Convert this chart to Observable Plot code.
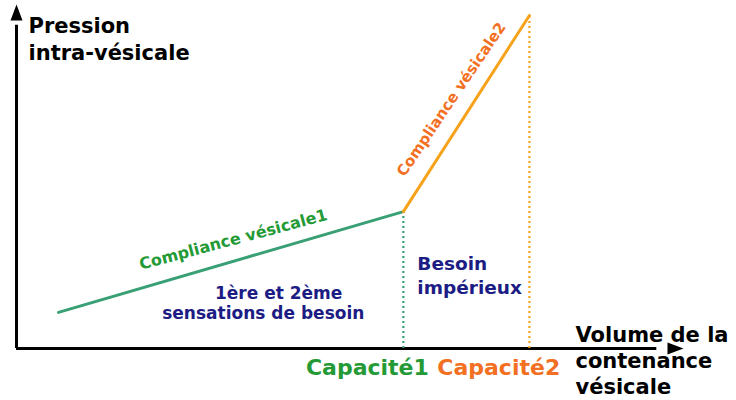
<!DOCTYPE html>
<html>
<head>
<meta charset="utf-8">
<script src="https://cdn.jsdelivr.net/npm/d3@7"></script>
<script src="https://cdn.jsdelivr.net/npm/@observablehq/plot@0.6"></script>
<style>
  html, body { margin: 0; padding: 0; background: #fff; }
</style>
</head>
<body>
<div id="chart"></div>
<script>
// Curve breakpoints: start, Capacité1, Capacité2 (volume, pressure in arbitrary units 0-100)
const volume = [6.3, 58.0, 76.9];
const pressure = [10.5, 39.8, 96.8];
const segmentNames = ["Compliance vésicale1", "Compliance vésicale2"];
const capacityNames = ["Capacité1", "Capacité2"];
const zoneNames = ["1ère et 2ème", "sensations de besoin", "Besoin", "impérieux"];
const axisTitles = ["Pression\nintra-vésicale", "Volume de la\ncontenance\nvésicale"];

// label anchor positions (data units)
const compLabelX = [32.5, 65.2];
const compLabelY = [31.6, 72.4];
const capLabelX = [52.6, 72.3];
const zoneLabelX = [39.3, 37.0, 60.1, 60.1];
const zoneLabelY = [16.0, 10.2, 24.4, 17.7];

const GREEN_LINE = "#38a074", ORANGE_LINE = "#f7a21b";
const GREEN_TEXT = "#239a35", ORANGE_TEXT = "#f36f21", NAVY = "#1c1c84";
const FONT = "DejaVu Sans";

const greenSeg = [{v: volume[0], p: pressure[0]}, {v: volume[1], p: pressure[1]}];
const orangeSeg = [{v: volume[1], p: pressure[1]}, {v: volume[2], p: pressure[2]}];

const arrowHead = {
  draw(context) {
    context.moveTo(0, 0);
    context.lineTo(6, 16);
    context.lineTo(-6, 16);
    context.closePath();
  }
};

const chart = Plot.plot({
  width: 736,
  height: 400,
  marginLeft: 16,
  marginRight: 53,
  marginTop: 4,
  marginBottom: 52,
  x: {domain: [0, 100], axis: null},
  y: {domain: [0, 100], axis: null},
  style: {background: "#fff", fontFamily: FONT},
  marks: [
    // axes
    Plot.ruleX([0], {y1: 0, y2: 94, stroke: "#000", strokeWidth: 3}),
    Plot.ruleY([0], {x1: 0, x2: 96, stroke: "#000", strokeWidth: 3}),
    Plot.dot([{x: 0, y: 100}], {x: "x", y: "y", symbol: arrowHead, fill: "#000", stroke: "none", r: 5}),
    Plot.dot([{x: 100, y: 0}], {x: "x", y: "y", symbol: arrowHead, fill: "#000", stroke: "none", r: 5, rotate: 90}),
    // dotted capacity lines
    Plot.ruleX([volume[1]], {y1: 0, y2: pressure[1], stroke: GREEN_LINE, strokeWidth: 2.2, strokeDasharray: "2,3"}),
    Plot.ruleX([volume[2]], {y1: 0, y2: pressure[2], stroke: ORANGE_LINE, strokeWidth: 2.2, strokeDasharray: "2,3"}),
    // compliance lines
    Plot.line(greenSeg, {x: "v", y: "p", stroke: GREEN_LINE, strokeWidth: 3}),
    Plot.line(orangeSeg, {x: "v", y: "p", stroke: ORANGE_LINE, strokeWidth: 3}),
    // compliance labels
    Plot.text([0], {x: () => compLabelX[0], y: () => compLabelY[0], text: () => segmentNames[0], rotate: -15, fill: GREEN_TEXT, fontSize: 16, fontWeight: "bold", fontFamily: FONT}),
    Plot.text([0], {x: () => compLabelX[1], y: () => compLabelY[1], text: () => segmentNames[1], rotate: -56, fill: ORANGE_TEXT, fontSize: 15, fontWeight: "bold", fontFamily: FONT}),
    // capacity labels
    Plot.text(capacityNames, {x: (d, i) => capLabelX[i], y: () => -5.8, text: d => d, fill: (d, i) => i === 0 ? GREEN_TEXT : ORANGE_TEXT, fontSize: 22, fontWeight: "bold", fontFamily: FONT}),
    // zone labels
    Plot.text(zoneNames.slice(0, 2), {x: (d, i) => zoneLabelX[i], y: (d, i) => zoneLabelY[i], text: d => d, fill: NAVY, fontSize: 17, fontWeight: "bold", fontFamily: FONT}),
    Plot.text(zoneNames.slice(2), {x: (d, i) => zoneLabelX[i + 2], y: (d, i) => zoneLabelY[i + 2], text: d => d, fill: NAVY, fontSize: 18.5, fontWeight: "bold", textAnchor: "start", fontFamily: FONT}),
    // axis titles
    Plot.text([axisTitles[0]], {x: () => 1.8, y: () => 97.4, text: d => d, textAnchor: "start", lineAnchor: "top", lineHeight: 1.3, fill: "#000", fontSize: 21, fontWeight: "bold", fontFamily: FONT}),
    Plot.text([axisTitles[1]], {x: () => 83.8, y: () => 7.4, text: d => d, textAnchor: "start", lineAnchor: "top", lineHeight: 1.25, fill: "#000", fontSize: 21, fontWeight: "bold", fontFamily: FONT})
  ]
});
document.getElementById("chart").appendChild(chart);
</script>
</body>
</html>
